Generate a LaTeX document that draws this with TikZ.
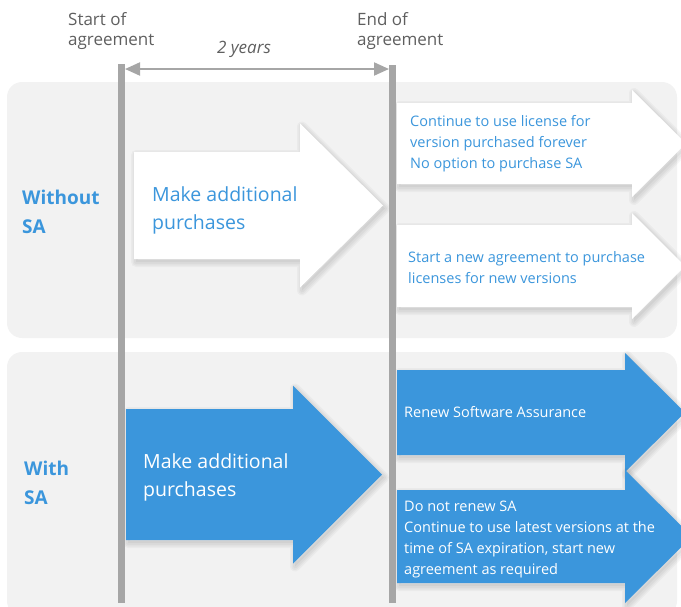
\documentclass[tikz,border=0pt]{standalone}
\usepackage{fontspec}
\setmainfont{Open Sans}
\usepackage{tikz}
\usetikzlibrary{arrows.meta}
\definecolor{sablue}{HTML}{3B96DC}
\definecolor{panelgray}{HTML}{F2F2F2}
\definecolor{bargray}{HTML}{A6A6A6}
\definecolor{labelgray}{HTML}{5F5F5F}
% arrow outline: xleft, xhead, xtip, ycenter, body half height, head half height
\newcommand{\arrowpath}[6]{(#1,#4-#5) -- (#2,#4-#5) -- (#2,#4-#6) -- (#3,#4) -- (#2,#4+#6) -- (#2,#4+#5) -- (#1,#4+#5) -- cycle}
\newcommand{\drawarrow}[7]{
  \fill[black, opacity=0.04, xshift=2pt, yshift=-3pt] \arrowpath{#2}{#3}{#4}{#5}{#6}{#7};
  \foreach \s in {10,7,4}
    \draw[black, opacity=0.03, line width=\s pt, line join=round, xshift=2pt, yshift=-3pt] \arrowpath{#2}{#3}{#4}{#5}{#6}{#7};
  \fill[#1] \arrowpath{#2}{#3}{#4}{#5}{#6}{#7};
}
\newcommand{\drawpanel}[2]{\fill[panelgray, rounded corners=15pt] (7,#1) rectangle (677,#2);}
\tikzset{
  toplbl/.style={anchor=base west, inner sep=0pt, align=left, text=labelgray, font=\fontsize{17}{20}\selectfont},
  rowlbl/.style={anchor=base west, inner sep=0pt, align=left, text=sablue, font=\bfseries\fontsize{19}{29}\selectfont},
  mainlbl/.style={anchor=base west, inner sep=0pt, align=left, font=\fontsize{19.5}{28.5}\selectfont},
  sidelbl/.style={anchor=base west, inner sep=0pt, align=left, font=\fontsize{14.5}{21}\selectfont}
}

\begin{document}
\begin{tikzpicture}[x=1pt, y=-1pt]
    \useasboundingbox (0,0) rectangle (681,606);
    \clip (0,0) rectangle (681,606);

    \drawpanel{82}{338}
    \drawpanel{352}{616}

    % without SA
    \drawarrow{white}{134}{300}{383}{205.5}{53.5}{82}
    \drawarrow{white}{397}{632}{686}{143.5}{40.5}{53.5}
    \drawarrow{white}{397}{632}{685}{266}{41}{53}

    % with SA
    \drawarrow{sablue}{126}{293}{382}{474.5}{65.5}{89}
    \drawarrow{sablue}{397}{625}{685}{412.5}{42.5}{59.5}
    \drawarrow{sablue}{397}{625}{692}{536.5}{46.5}{66.5}

    % time line
    \coordinate (starttop) at (121.5,64);
    \coordinate (startbot) at (121.5,603);
    \coordinate (endtop) at (392.5,65);
    \coordinate (endbot) at (392.5,603);
    \draw[bargray, line width=7pt] (starttop) -- (startbot);
    \draw[bargray, line width=7pt] (endtop) -- (endbot);
    \coordinate (spanl) at (125,69);
    \coordinate (spanr) at (389,69);
    \draw[bargray, line width=2pt, {Triangle[length=15pt,width=13pt]}-{Triangle[length=15pt,width=13pt]}] (spanl) -- (spanr);

    % labels (anchor is the baseline of the last line)
    \node[toplbl] (startlbl) at (68,45) {Start of\\agreement};
    \node[toplbl] (endlbl) at (357,45) {End of\\agreement};
    \node[anchor=base, inner sep=0pt, text=labelgray, font=\itshape\fontsize{17}{20}\selectfont] (spanlbl) at (244,53) {2 years};

    \node[rowlbl] (withoutlbl) at (22,233) {Without\\SA};
    \node[rowlbl] (withlbl) at (24,504) {With\\SA};

    \node[mainlbl, text=sablue] (buyno) at (152,229.5) {Make additional\\purchases};
    \node[mainlbl, text=white] (buysa) at (143,496.5) {Make additional\\purchases};

    \node[sidelbl, text=sablue] (keepno) at (410,168) {Continue to use license for\\version purchased forever\\No option to purchase SA};
    \node[sidelbl, text=sablue] (newno) at (408,283) {Start a new agreement to purchase\\licenses for new versions};
    \node[sidelbl, text=white] (renewsa) at (404,417) {Renew Software Assurance};
    \node[sidelbl, text=white] (stopsa) at (404,574) {Do not renew SA\\Continue to use latest versions at the\\time of SA expiration, start new\\agreement as required};
\end{tikzpicture}
\end{document}
